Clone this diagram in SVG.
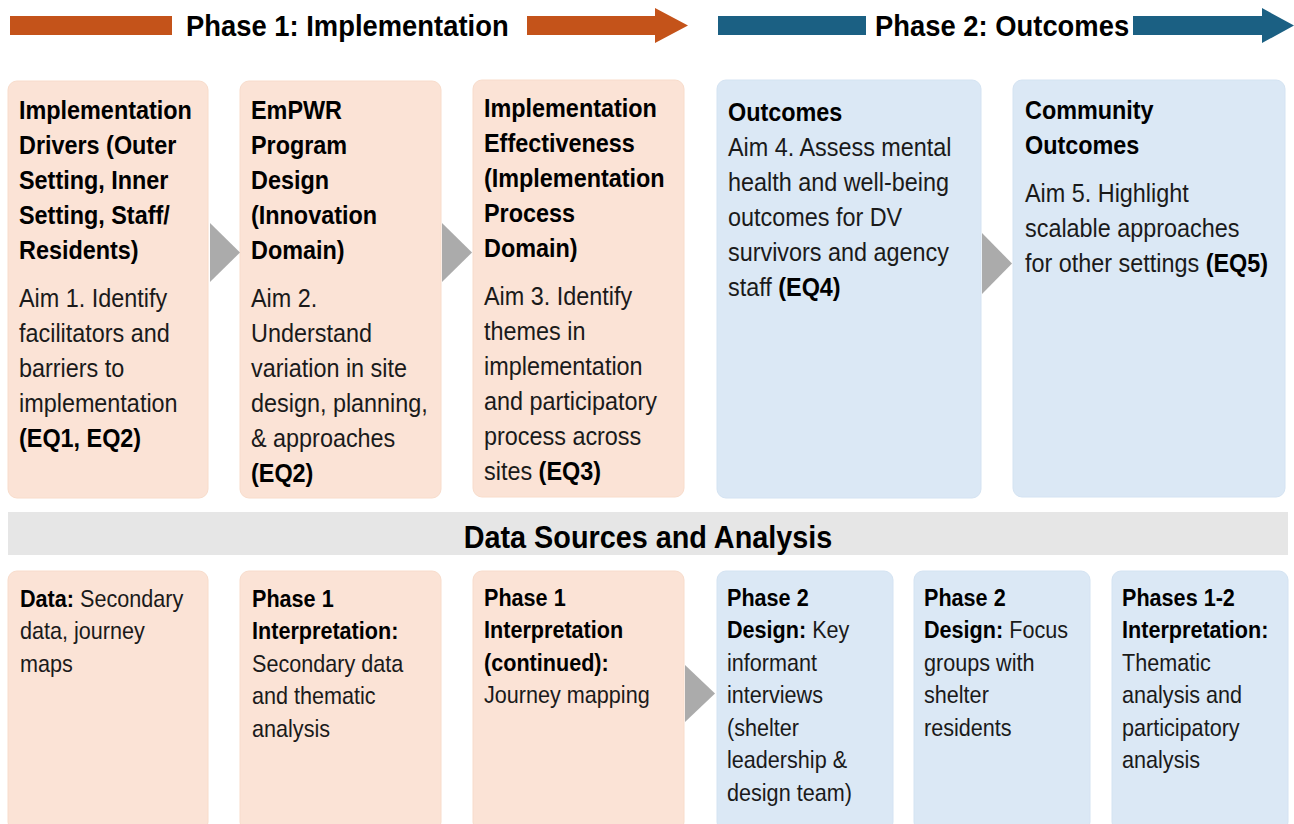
<svg xmlns="http://www.w3.org/2000/svg" width="1294" height="824" viewBox="0 0 1294 824">
  <style>
    text { font-family: "Liberation Sans", Arial, sans-serif; fill: #1a1a1a; }
    .t26 { font-size: 26px; }
    .t24 { font-size: 24px; }
    .hdr { font-size: 30px; font-weight: bold; fill: #000; }
    .b { font-weight: bold; fill: #000; }
    .p1 { fill: #fbe3d6; stroke: #f8dccb; stroke-width: 1; }
    .p2 { fill: #dbe8f5; stroke: #d4e3f2; stroke-width: 1; }
    .chev { fill: #ababab; }
    .orange { fill: #c4531a; }
    .blue { fill: #1b6083; }
  </style>

  <rect width="1294" height="824" fill="#ffffff"/>

  <!-- Phase banners -->
  <g id="phase-banners">
    <rect class="orange" x="10" y="16" width="162" height="19"/>
    <text class="hdr" transform="translate(186,36) scale(0.913,1)">Phase 1: Implementation</text>
    <path class="orange" d="M527,16 H655 V8 L688,25.5 L655,43 V35 H527 Z"/>
    <rect class="blue" x="718" y="16" width="148" height="19"/>
    <text class="hdr" transform="translate(875,36) scale(0.913,1)">Phase 2: Outcomes</text>
    <path class="blue" d="M1133,16 H1262 V8 L1294,25.5 L1262,43 V35 H1133 Z"/>
  </g>

  <!-- Phase 1 / Phase 2 aims -->
  <g id="drivers">
    <rect class="p1" x="8" y="81" width="200" height="417" rx="9"/>
    <text class="t26" transform="translate(19,119) scale(0.9,1)">
      <tspan class="b" x="0">Implementation</tspan>
      <tspan class="b" x="0" dy="35">Drivers (Outer</tspan>
      <tspan class="b" x="0" dy="35">Setting, Inner</tspan>
      <tspan class="b" x="0" dy="35">Setting, Staff/</tspan>
      <tspan class="b" x="0" dy="35">Residents)</tspan>
      <tspan x="0" dy="48">Aim 1. Identify</tspan>
      <tspan x="0" dy="35">facilitators and</tspan>
      <tspan x="0" dy="35">barriers to</tspan>
      <tspan x="0" dy="35">implementation</tspan>
      <tspan class="b" x="0" dy="35">(EQ1, EQ2)</tspan>
    </text>
  </g>

  <g id="program-design">
    <rect class="p1" x="240" y="81" width="201" height="417" rx="9"/>
    <text class="t26" transform="translate(251,119) scale(0.9,1)">
      <tspan class="b" x="0">EmPWR</tspan>
      <tspan class="b" x="0" dy="35">Program</tspan>
      <tspan class="b" x="0" dy="35">Design</tspan>
      <tspan class="b" x="0" dy="35">(Innovation</tspan>
      <tspan class="b" x="0" dy="35">Domain)</tspan>
      <tspan x="0" dy="48">Aim 2.</tspan>
      <tspan x="0" dy="35">Understand</tspan>
      <tspan x="0" dy="35">variation in site</tspan>
      <tspan x="0" dy="35">design, planning,</tspan>
      <tspan x="0" dy="35">&amp; approaches</tspan>
      <tspan class="b" x="0" dy="35">(EQ2)</tspan>
    </text>
  </g>

  <g id="effectiveness">
    <rect class="p1" x="473" y="80" width="211" height="417" rx="9"/>
    <text class="t26" transform="translate(484,117) scale(0.9,1)">
      <tspan class="b" x="0">Implementation</tspan>
      <tspan class="b" x="0" dy="35">Effectiveness</tspan>
      <tspan class="b" x="0" dy="35">(Implementation</tspan>
      <tspan class="b" x="0" dy="35">Process</tspan>
      <tspan class="b" x="0" dy="35">Domain)</tspan>
      <tspan x="0" dy="48">Aim 3. Identify</tspan>
      <tspan x="0" dy="35">themes in</tspan>
      <tspan x="0" dy="35">implementation</tspan>
      <tspan x="0" dy="35">and participatory</tspan>
      <tspan x="0" dy="35">process across</tspan>
      <tspan x="0" dy="35">sites <tspan class="b">(EQ3)</tspan></tspan>
    </text>
  </g>

  <g id="outcomes">
    <rect class="p2" x="717" y="80" width="264" height="418" rx="9"/>
    <text class="t26" transform="translate(728,121) scale(0.9,1)">
      <tspan class="b" x="0">Outcomes</tspan>
      <tspan x="0" dy="35">Aim 4. Assess mental</tspan>
      <tspan x="0" dy="35">health and well-being</tspan>
      <tspan x="0" dy="35">outcomes for DV</tspan>
      <tspan x="0" dy="35">survivors and agency</tspan>
      <tspan x="0" dy="35">staff <tspan class="b">(EQ4)</tspan></tspan>
    </text>
  </g>

  <g id="community-outcomes">
    <rect class="p2" x="1013" y="80" width="272" height="417" rx="9"/>
    <text class="t26" transform="translate(1025,119) scale(0.9,1)">
      <tspan class="b" x="0">Community</tspan>
      <tspan class="b" x="0" dy="35">Outcomes</tspan>
      <tspan x="0" dy="48">Aim 5. Highlight</tspan>
      <tspan x="0" dy="35">scalable approaches</tspan>
      <tspan x="0" dy="35">for other settings <tspan class="b">(EQ5)</tspan></tspan>
    </text>
  </g>

  <!-- Section band -->
  <g id="data-sources-band">
    <rect x="8" y="512" width="1280" height="43" fill="#e6e6e6"/>
    <text class="hdr" text-anchor="middle" style="font-size:32px" transform="translate(648,548) scale(0.9,1)">Data Sources and Analysis</text>
  </g>

  <!-- Data sources and analysis steps -->
  <g id="data">
    <rect class="p1" x="8" y="571" width="200" height="260" rx="9"/>
    <text class="t24" transform="translate(20,607) scale(0.9,1)">
      <tspan x="0"><tspan class="b">Data:</tspan> Secondary</tspan>
      <tspan x="0" dy="32.5">data, journey</tspan>
      <tspan x="0" dy="32.5">maps</tspan>
    </text>
  </g>

  <g id="phase1-interpretation">
    <rect class="p1" x="240" y="571" width="201" height="260" rx="9"/>
    <text class="t24" transform="translate(252,607) scale(0.9,1)">
      <tspan class="b" x="0">Phase 1</tspan>
      <tspan class="b" x="0" dy="32.5">Interpretation:</tspan>
      <tspan x="0" dy="32.5">Secondary data</tspan>
      <tspan x="0" dy="32.5">and thematic</tspan>
      <tspan x="0" dy="32.5">analysis</tspan>
    </text>
  </g>

  <g id="phase1-continued">
    <rect class="p1" x="473" y="571" width="211" height="260" rx="9"/>
    <text class="t24" transform="translate(484,606) scale(0.9,1)">
      <tspan class="b" x="0">Phase 1</tspan>
      <tspan class="b" x="0" dy="32.5">Interpretation</tspan>
      <tspan class="b" x="0" dy="32.5">(continued):</tspan>
      <tspan x="0" dy="32.5">Journey mapping</tspan>
    </text>
  </g>

  <g id="phase2-interviews">
    <rect class="p2" x="717" y="571" width="176" height="260" rx="9"/>
    <text class="t24" transform="translate(727,606) scale(0.9,1)">
      <tspan class="b" x="0">Phase 2</tspan>
      <tspan x="0" dy="32.5"><tspan class="b">Design:</tspan> Key</tspan>
      <tspan x="0" dy="32.5">informant</tspan>
      <tspan x="0" dy="32.5">interviews</tspan>
      <tspan x="0" dy="32.5">(shelter</tspan>
      <tspan x="0" dy="32.5">leadership &amp;</tspan>
      <tspan x="0" dy="32.5">design team)</tspan>
    </text>
  </g>

  <g id="phase2-focus-groups">
    <rect class="p2" x="914" y="571" width="176" height="260" rx="9"/>
    <text class="t24" transform="translate(924,606) scale(0.9,1)">
      <tspan class="b" x="0">Phase 2</tspan>
      <tspan x="0" dy="32.5"><tspan class="b">Design:</tspan> Focus</tspan>
      <tspan x="0" dy="32.5">groups with</tspan>
      <tspan x="0" dy="32.5">shelter</tspan>
      <tspan x="0" dy="32.5">residents</tspan>
    </text>
  </g>

  <g id="phases-interpretation">
    <rect class="p2" x="1112" y="571" width="176" height="260" rx="9"/>
    <text class="t24" transform="translate(1122,606) scale(0.9,1)">
      <tspan class="b" x="0">Phases 1-2</tspan>
      <tspan class="b" x="0" dy="32.5">Interpretation:</tspan>
      <tspan x="0" dy="32.5">Thematic</tspan>
      <tspan x="0" dy="32.5">analysis and</tspan>
      <tspan x="0" dy="32.5">participatory</tspan>
      <tspan x="0" dy="32.5">analysis</tspan>
    </text>
  </g>

  <!-- Chevron connectors -->
  <g id="connectors">
    <polygon class="chev" points="210,223 240,252.5 210,282"/>
    <polygon class="chev" points="442,223 472,252.5 442,282"/>
    <polygon class="chev" points="982,233 1012,263.5 982,294"/>
    <polygon class="chev" points="685,665 715,693.5 685,722"/>
  </g>
</svg>
